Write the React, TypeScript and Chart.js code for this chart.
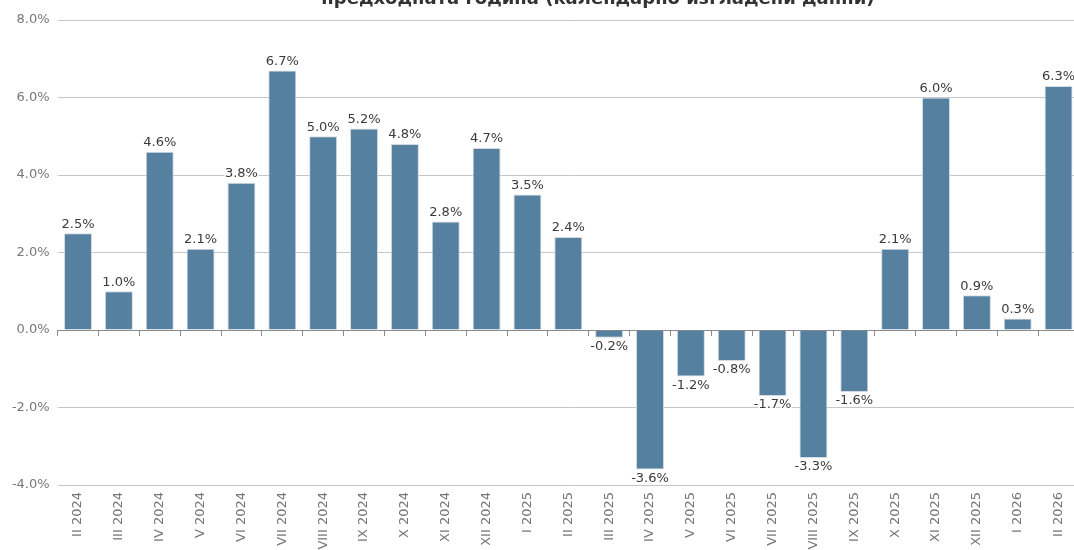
import React, { useEffect, useRef } from "react";
import { Chart, registerables } from "chart.js";

Chart.register(...registerables);

const categories = [
  "II 2024", "III 2024", "IV 2024", "V 2024", "VI 2024", "VII 2024", "VIII 2024",
  "IX 2024", "X 2024", "XI 2024", "XII 2024", "I 2025", "II 2025", "III 2025",
  "IV 2025", "V 2025", "VI 2025", "VII 2025", "VIII 2025", "IX 2025", "X 2025",
  "XI 2025", "XII 2025", "I 2026", "II 2026",
];
const values = [
  2.5, 1.0, 4.6, 2.1, 3.8, 6.7, 5.0, 5.2, 4.8, 2.8, 4.7, 3.5, 2.4,
  -0.2, -3.6, -1.2, -0.8, -1.7, -3.3, -1.6, 2.1, 6.0, 0.9, 0.3, 6.3,
];
const titleText = "предходната година (календарно изгладени данни)";
const yMin = -4;
const yMax = 8;
const yStep = 2;

const FONT = "'DejaVu Sans', sans-serif";
const TOP_CUT = 30;

const valueLabels = {
  id: "valueLabels",
  afterDatasetsDraw(chart: any) {
    const ctx = chart.ctx;
    const meta = chart.getDatasetMeta(0);
    ctx.save();
    ctx.font = `13px ${FONT}`;
    ctx.textAlign = "center";
    ctx.textBaseline = "middle";
    ctx.lineJoin = "round";
    meta.data.forEach((bar: any, i: number) => {
      const v = values[i];
      const txt = v.toFixed(1) + "%";
      const y = v >= 0 ? bar.y - 9 : bar.y + 9;
      ctx.strokeStyle = "rgba(255,255,255,0.9)";
      ctx.lineWidth = 3;
      ctx.strokeText(txt, bar.x, y);
      ctx.fillStyle = "#3a3a3a";
      ctx.fillText(txt, bar.x, y);
    });
    ctx.restore();
  },
};

const titleDraw = {
  id: "titleDraw",
  afterDraw(chart: any) {
    const ctx = chart.ctx;
    const { left, right, top } = chart.chartArea;
    ctx.save();
    ctx.font = `bold 18px ${FONT}`;
    ctx.textAlign = "center";
    ctx.textBaseline = "alphabetic";
    ctx.fillStyle = "#333";
    const cx = left + (right - left) * 0.529;
    ctx.fillText(titleText, cx, top - 16.5);
    ctx.restore();
  },
};

export default function App() {
  const ref = useRef<HTMLCanvasElement | null>(null);
  useEffect(() => {
    if (!ref.current) return;
    const chart = new Chart(ref.current, {
      type: "bar",
      data: {
        labels: categories,
        datasets: [
          {
            data: values,
            backgroundColor: "#55809f",
            borderColor: "#d5dbe2",
            borderWidth: 1,
            categoryPercentage: 0.7,
            barPercentage: 0.98,
          },
        ],
      },
      options: {
        responsive: false,
        animation: false,
        devicePixelRatio: 1,
        layout: { padding: { left: 0, right: 11, top: 50, bottom: 0 } },
        plugins: {
          legend: { display: false },
          tooltip: { enabled: false },
          title: { display: false },
        },
        scales: {
          y: {
            min: yMin,
            max: yMax,
            ticks: {
              stepSize: yStep,
              color: "#777",
              font: { family: FONT, size: 13 },
              padding: 8,
              callback: (v: any) => Number(v).toFixed(1) + "%",
            },
            grid: { color: "#c3c6cf", lineWidth: 1, drawTicks: false },
            border: { display: false },
            afterFit: (s: any) => { s.width = 57.6; },
          },
          x: {
            type: "category",
            position: { y: 0 },
            offset: true,
            ticks: { display: false },
            grid: {
              offset: true,
              drawOnChartArea: false,
              drawTicks: true,
              tickLength: 5,
              color: "#8a8a8a",
            },
            border: { display: true, color: "#8a8a8a", width: 1 },
          },
          x2: {
            type: "category",
            labels: categories,
            position: "bottom",
            offset: true,
            ticks: {
              color: "#777",
              font: { family: FONT, size: 13 },
              minRotation: 90,
              maxRotation: 90,
              autoSkip: false,
              padding: 7,
            },
            grid: { display: false, drawTicks: false },
            border: { display: false },
            afterFit: (s: any) => { s.height = 80; },
          },
        },
      },
      plugins: [valueLabels, titleDraw],
    } as any);
    return () => chart.destroy();
  }, []);
  return (
    <div style={{ position: "fixed", left: 0, top: 0, width: 1074, height: 550, overflow: "hidden", background: "#fff" }}>
      <canvas
        ref={ref}
        width={1090}
        height={595}
        style={{ position: "absolute", left: 0, top: -TOP_CUT, width: 1090, height: 595 }}
      />
    </div>
  );
}
